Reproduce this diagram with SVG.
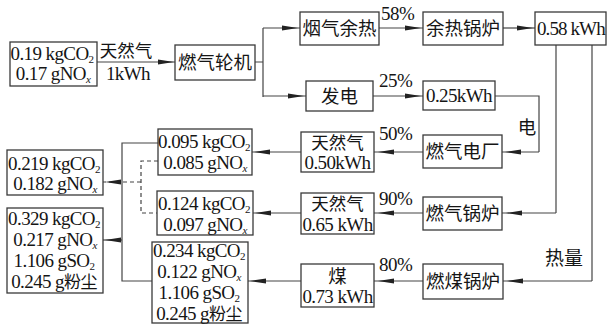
<svg xmlns="http://www.w3.org/2000/svg" width="607" height="326" viewBox="0 0 607 326">
<style>
.bx{fill:#fff;stroke:#3a3a3a;stroke-width:1.3}
.ln{fill:none;stroke:#444;stroke-width:1.2}
.dl{fill:none;stroke:#444;stroke-width:1.2;stroke-dasharray:4 3}
.ar{marker-mid:url(#ah)}
text{font-family:"Liberation Serif","Noto Sans CJK SC",serif;fill:#151515}
.n{font-size:19px;text-anchor:middle;letter-spacing:-0.6px}
.c{font-size:18.5px;text-anchor:middle}
.p{font-size:19px;letter-spacing:-0.5px}
.s{font-size:11px}
.k{font-size:17px}
</style>
<defs>
<marker id="ah" markerUnits="userSpaceOnUse" orient="auto" refX="0" refY="0" markerWidth="20" markerHeight="8" overflow="visible">
<path d="M0,0 L-16,-2.6 L-16,2.6 Z" fill="#222"/>
</marker>
</defs>
<rect width="607" height="326" fill="#fff"/>

<g id="connectors">
<path class="ln ar" d="M97,62 L174,62 L175,62"/>
<path class="ln" d="M255,62 H263 M263,28 V97"/>
<path class="ln ar" d="M263,28 L298,28 L300,28"/>
<path class="ln ar" d="M263,96 L304,96 L306,96"/>
<path class="ln ar" d="M379,28 L421,28 L423,28"/>
<path class="ln ar" d="M503,28 L533,28 L535,28"/>
<path class="ln ar" d="M373,96 L421,96 L423,96"/>
<path class="ln" d="M495,96 H539 V152"/>
<path class="ln ar" d="M539,152 L505,152 L502,152"/>
<path class="ln ar" d="M423,152 L378,152 L374,152"/>
<path class="ln" d="M556,45 V213"/>
<path class="ln ar" d="M556,213 L506,213 L502,213"/>
<path class="ln ar" d="M423,213 L378,213 L374,213"/>
<path class="ln" d="M592,45 V281"/>
<path class="ln ar" d="M592,281 L507,281 L503,281"/>
<path class="ln ar" d="M423,281 L378,281 L374,281"/>
<path class="ln ar" d="M301,152 L254,152 L252,152"/>
<path class="ln ar" d="M301,213 L255,213 L253,213"/>
<path class="ln ar" d="M301,281 L250,281 L248,281"/>
<path class="ln" d="M158,143 H122 V281 H152"/>
<path class="ln ar" d="M122,240 L105,240 L103,240"/>
<path class="dl" d="M158,161 H141 V213 H157"/>
<path class="dl ar" d="M141,182 L105,182 L103,182"/>
</g>

<g id="labels">
<text class="c" x="126" y="57" style="font-size:17.5px">天然气</text>
<text class="n" x="128" y="80">1kWh</text>
<text class="p" x="381" y="20">58%</text>
<text class="p" x="379" y="87">25%</text>
<text class="p" x="379" y="140">50%</text>
<text class="p" x="379" y="205">90%</text>
<text class="p" x="379" y="271">80%</text>
<text class="c" x="527" y="134">电</text>
<text class="c" x="564" y="265" style="font-size:19px">热量</text>
</g>

<g id="src">
<rect class="bx" x="10" y="42" width="87" height="44"/>
<text class="n" x="52" y="60">0.19 kgCO<tspan class="s" dy="3">2</tspan></text>
<text class="n" x="53" y="80">0.17 gNO<tspan class="s" dy="3" font-style="italic">x</tspan></text>
</g>
<g id="turbine">
<rect class="bx" x="175" y="45" width="80" height="35"/>
<text class="c" x="215" y="69">燃气轮机</text>
</g>
<g id="flue">
<rect class="bx" x="300" y="12" width="79" height="33"/>
<text class="c" x="339.5" y="35">烟气余热</text>
</g>
<g id="hrsg">
<rect class="bx" x="423" y="12" width="80" height="33"/>
<text class="c" x="463" y="35">余热锅炉</text>
</g>
<g id="heat058">
<rect class="bx" x="535" y="12" width="71" height="33"/>
<text class="p" x="537" y="35" style="letter-spacing:-0.9px">0.58 kWh</text>
</g>
<g id="gen">
<rect class="bx" x="306" y="81" width="67" height="30"/>
<text class="c" x="339.5" y="103">发电</text>
</g>
<g id="elec025">
<rect class="bx" x="423" y="81" width="72" height="29"/>
<text class="n" x="459" y="102">0.25kWh</text>
</g>
<g id="gasplant">
<rect class="bx" x="423" y="135" width="79" height="33"/>
<text class="c" x="462.5" y="158">燃气电厂</text>
</g>
<g id="gasboiler">
<rect class="bx" x="423" y="197" width="79" height="33"/>
<text class="c" x="462.5" y="220">燃气锅炉</text>
</g>
<g id="coalboiler">
<rect class="bx" x="423" y="264" width="80" height="35"/>
<text class="c" x="463" y="288">燃煤锅炉</text>
</g>
<g id="gas050">
<rect class="bx" x="301" y="132" width="73" height="40"/>
<text class="c" x="337.5" y="149" style="font-size:17.5px">天然气</text>
<text class="n" x="337.5" y="169">0.50kWh</text>
</g>
<g id="gas065">
<rect class="bx" x="301" y="193" width="73" height="41"/>
<text class="c" x="337.5" y="210" style="font-size:17.5px">天然气</text>
<text class="n" x="337.5" y="231">0.65 kWh</text>
</g>
<g id="coal073">
<rect class="bx" x="301" y="264" width="73" height="43"/>
<text class="c" x="337.5" y="283">煤</text>
<text class="n" x="337.5" y="303">0.73 kWh</text>
</g>
<g id="em095">
<rect class="bx" x="158" y="129" width="94" height="46"/>
<text class="n" x="204" y="148">0.095 kgCO<tspan class="s" dy="3">2</tspan></text>
<text class="n" x="205" y="169">0.085 gNO<tspan class="s" dy="3" font-style="italic">x</tspan></text>
</g>
<g id="em124">
<rect class="bx" x="157" y="191" width="96" height="44"/>
<text class="n" x="204" y="210">0.124 kgCO<tspan class="s" dy="3">2</tspan></text>
<text class="n" x="205" y="231">0.097 gNO<tspan class="s" dy="3" font-style="italic">x</tspan></text>
</g>
<g id="em234">
<rect class="bx" x="152" y="242" width="96" height="81"/>
<text class="n" x="199" y="257">0.234 kgCO<tspan class="s" dy="3">2</tspan></text>
<text class="n" x="199" y="278">0.122 gNO<tspan class="s" dy="3" font-style="italic">x</tspan></text>
<text class="n" x="199" y="299">1.106 gSO<tspan class="s" dy="3">2</tspan></text>
<text class="n" x="199" y="320">0.245 g<tspan class="k">粉尘</tspan></text>
</g>
<g id="em219">
<rect class="bx" x="7" y="150" width="96" height="45"/>
<text class="n" x="54" y="170">0.219 kgCO<tspan class="s" dy="3">2</tspan></text>
<text class="n" x="55" y="190">0.182 gNO<tspan class="s" dy="3" font-style="italic">x</tspan></text>
</g>
<g id="em329">
<rect class="bx" x="7" y="208" width="96" height="85"/>
<text class="n" x="54" y="225">0.329 kgCO<tspan class="s" dy="3">2</tspan></text>
<text class="n" x="55" y="246">0.217 gNO<tspan class="s" dy="3" font-style="italic">x</tspan></text>
<text class="n" x="54" y="267">1.106 gSO<tspan class="s" dy="3">2</tspan></text>
<text class="n" x="54" y="288">0.245 g<tspan class="k">粉尘</tspan></text>
</g>
</svg>
